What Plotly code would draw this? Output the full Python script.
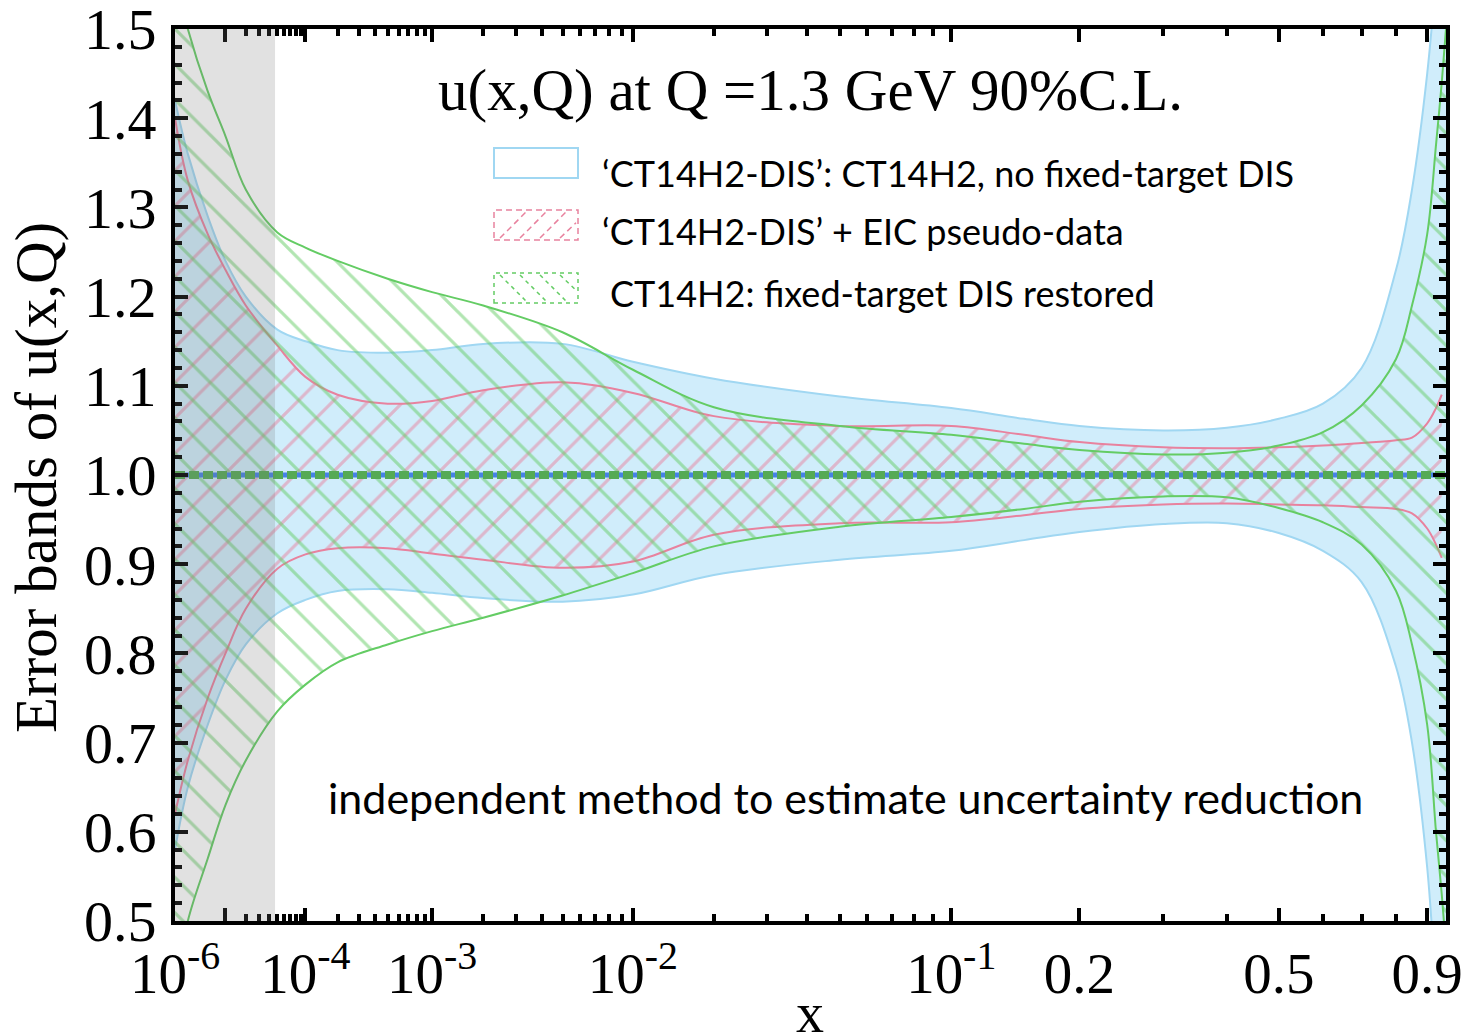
import numpy as np
import plotly.graph_objects as go

# ---------------- data ----------------
x_ct = [1e-6, 2e-6, 5e-6, 1e-5, 2e-5, 5e-5, 1e-4, 2e-4, 5e-4, 1e-3, 2e-3, 5e-3,
        1e-2, 2e-2, 5e-2, 0.1, 0.15, 0.2, 0.3, 0.4, 0.5, 0.6, 0.7, 0.8, 0.85,
        0.9, 0.93, 0.95, 0.97]

# 'CT14H2-DIS' (blue band)
dis_hi = [1.42, 1.36, 1.29, 1.24, 1.20, 1.163, 1.15, 1.14, 1.137, 1.14, 1.147, 1.147,
          1.127, 1.108, 1.088, 1.075, 1.063, 1.055, 1.05, 1.053, 1.063, 1.08, 1.12, 1.23, 1.32,
          1.45, 1.56, 1.65, 1.75]
dis_lo = [0.58, 0.65, 0.72, 0.77, 0.81, 0.845, 0.86, 0.87, 0.872, 0.868, 0.862, 0.858,
          0.866, 0.888, 0.905, 0.915, 0.927, 0.936, 0.945, 0.946, 0.935, 0.915, 0.88, 0.785, 0.70,
          0.56, 0.42, 0.32, 0.20]

# 'CT14H2-DIS' + EIC pseudo-data (pink band)
x_eic = x_ct[:28]
eic_hi = [1.40, 1.33, 1.27, 1.23, 1.19, 1.145, 1.11, 1.09, 1.08, 1.083, 1.095, 1.104,
          1.092, 1.066, 1.055, 1.055, 1.045, 1.037, 1.031, 1.03, 1.031, 1.033, 1.036, 1.039, 1.042,
          1.058, 1.075, 1.09]
eic_lo = [0.62, 0.68, 0.75, 0.80, 0.85, 0.895, 0.911, 0.918, 0.918, 0.912, 0.905, 0.896,
          0.903, 0.933, 0.946, 0.947, 0.955, 0.962, 0.967, 0.968, 0.967, 0.966, 0.964, 0.962, 0.957,
          0.94, 0.922, 0.907]

# CT14H2 (green band)
ct_hi = [1.56, 1.50, 1.43, 1.38, 1.32, 1.272, 1.255, 1.24, 1.22, 1.205, 1.19, 1.16,
         1.118, 1.076, 1.055, 1.045, 1.035, 1.028, 1.023, 1.025, 1.033, 1.048, 1.078, 1.13, 1.19,
         1.27, 1.37, 1.44, 1.52]
ct_lo = [0.42, 0.50, 0.57, 0.63, 0.68, 0.735, 0.765, 0.79, 0.81, 0.825, 0.84, 0.865,
         0.89, 0.92, 0.942, 0.953, 0.962, 0.97, 0.976, 0.975, 0.963, 0.947, 0.922, 0.87, 0.81,
         0.72, 0.60, 0.53, 0.45]

x_major = [1e-6, 1e-5, 1e-4, 1e-3, 1e-2, 0.1, 0.2, 0.5, 0.9]
x_major_labels = ["10<sup>-6</sup>", "", "10<sup>-4</sup>", "10<sup>-3</sup>", "10<sup>-2</sup>",
                  "10<sup>-1</sup>", "0.2", "0.5", "0.9"]
x_minor = [k * 10.0 ** e for e in (-5, -4, -3, -2) for k in range(2, 10)] + [0.3, 0.4, 0.6, 0.7, 0.8]
y_major = [0.5, 0.6, 0.7, 0.8, 0.9, 1.0, 1.1, 1.2, 1.3, 1.4, 1.5]
y_major_labels = ["0.5", "0.6", "0.7", "0.8", "0.9", "1.0", "1.1", "1.2", "1.3", "1.4", "1.5"]

x_min, x_max = 1e-6, 0.965
x_gray_edge = 4.7e-5

POW = 0.2  # x-axis drawn on an x^0.2 scale


def T(v):
    return (np.asarray(v, dtype=float) ** POW).tolist()


# ---------------- styling ----------------
BLUE_FILL = "rgb(208,237,251)"
BLUE_LINE = "rgb(160,215,242)"
PINK = "rgb(232,130,158)"
GREEN = "rgb(100,204,100)"
SERIF = "Liberation Serif"
SANS = "Lato"

W, H = 1464, 1033
L, R, TOP, BOT = 175, 1446, 29, 921


def px(xp):
    return (xp - L) / (R - L)


def py(yp):
    return (BOT - yp) / (BOT - TOP)


fig = go.Figure()

# blue band
fig.add_trace(go.Scatter(x=T(x_ct), y=dis_lo, mode="lines", line=dict(color=BLUE_LINE, width=2, shape="spline"),
                         showlegend=False, hoverinfo="skip"))
fig.add_trace(go.Scatter(x=T(x_ct), y=dis_hi, mode="lines", line=dict(color=BLUE_LINE, width=2, shape="spline"),
                         fill="tonexty", fillcolor=BLUE_FILL, showlegend=False, hoverinfo="skip"))
# pink band
fig.add_trace(go.Scatter(x=T(x_eic), y=eic_lo, mode="lines", line=dict(color=PINK, width=2, shape="spline"),
                         showlegend=False, hoverinfo="skip"))
fig.add_trace(go.Scatter(x=T(x_eic), y=eic_hi, mode="lines", line=dict(color=PINK, width=2, shape="spline"),
                         fill="tonexty", fillcolor="rgba(0,0,0,0)",
                         fillpattern=dict(shape="/", fgcolor=PINK, bgcolor="rgba(0,0,0,0)", size=25,
                                          solidity=0.13, fillmode="overlay"),
                         showlegend=False, hoverinfo="skip"))
# green band
fig.add_trace(go.Scatter(x=T(x_ct), y=ct_lo, mode="lines", line=dict(color=GREEN, width=2, shape="spline"),
                         showlegend=False, hoverinfo="skip"))
fig.add_trace(go.Scatter(x=T(x_ct), y=ct_hi, mode="lines", line=dict(color=GREEN, width=2, shape="spline"),
                         fill="tonexty", fillcolor="rgba(0,0,0,0)",
                         fillpattern=dict(shape="\\", fgcolor=GREEN, bgcolor="rgba(0,0,0,0)", size=25,
                                          solidity=0.13, fillmode="overlay"),
                         showlegend=False, hoverinfo="skip"))
# central value line
fig.add_trace(go.Scatter(x=T([x_min, x_max]), y=[1.0, 1.0], mode="lines",
                         line=dict(color="rgb(70,130,230)", width=5), showlegend=False, hoverinfo="skip"))
fig.add_trace(go.Scatter(x=T([x_min, x_max]), y=[1.0, 1.0], mode="lines",
                         line=dict(color="rgb(85,170,85)", width=8, dash="10px,4px"),
                         showlegend=False, hoverinfo="skip"))

shapes = []
# gray shaded small-x region
shapes.append(dict(type="rect", xref="x", yref="y", x0=T([x_min])[0], x1=T([x_gray_edge])[0],
                   y0=0.5, y1=1.5, fillcolor="rgba(120,120,120,0.22)", line=dict(width=0), layer="above"))

# legend symbols
bx0, bx1 = 494, 578
boxes = [(148, 178), (210, 240), (273, 303)]
shapes.append(dict(type="rect", xref="paper", yref="paper", x0=px(bx0), x1=px(bx1),
                   y0=py(boxes[0][1]), y1=py(boxes[0][0]), line=dict(color=BLUE_LINE, width=2),
                   fillcolor="white"))
shapes.append(dict(type="rect", xref="paper", yref="paper", x0=px(bx0), x1=px(bx1),
                   y0=py(boxes[1][1]), y1=py(boxes[1][0]), line=dict(color=PINK, width=1.5, dash="6px,4px")))
shapes.append(dict(type="rect", xref="paper", yref="paper", x0=px(bx0), x1=px(bx1),
                   y0=py(boxes[2][1]), y1=py(boxes[2][0]), line=dict(color=GREEN, width=1.5, dash="4px,4px")))
# legend hatching
for k in range(4):
    xs = bx0 + 6 + k * 20
    ytop, ybot = boxes[1]
    shapes.append(dict(type="line", xref="paper", yref="paper", x0=px(xs), y0=py(ybot - 2),
                       x1=px(min(xs + 26, bx1 - 2)), y1=py(ytop + 2 + max(0, xs + 26 - (bx1 - 2)) * 28 / 26),
                       line=dict(color=PINK, width=1.5, dash="6px,4px")))
    ytop, ybot = boxes[2]
    shapes.append(dict(type="line", xref="paper", yref="paper", x0=px(xs), y0=py(ytop + 2),
                       x1=px(min(xs + 26, bx1 - 2)), y1=py(ybot - 2 - max(0, xs + 26 - (bx1 - 2)) * 28 / 26),
                       line=dict(color=GREEN, width=1.5, dash="4px,4px")))

annotations = [
    dict(text="u(x,Q) at Q =1.3 GeV 90%C.L.", x=px(810), y=py(90), xref="paper", yref="paper",
         showarrow=False, font=dict(family=SERIF, size=59, color="black"), xanchor="center", yanchor="middle"),
    dict(text="\u2018CT14H2-DIS\u2019: CT14H2, no fixed-target DIS", x=px(600), y=py(173), xref="paper",
         yref="paper", showarrow=False, font=dict(family=SANS, size=36, color="black"),
         xanchor="left", yanchor="middle"),
    dict(text="\u2018CT14H2-DIS\u2019 + EIC pseudo-data", x=px(600), y=py(231), xref="paper",
         yref="paper", showarrow=False, font=dict(family=SANS, size=36, color="black"),
         xanchor="left", yanchor="middle"),
    dict(text="CT14H2: fixed-target DIS restored", x=px(608), y=py(293), xref="paper",
         yref="paper", showarrow=False, font=dict(family=SANS, size=36, color="black"),
         xanchor="left", yanchor="middle"),
    dict(text="independent method to estimate uncertainty reduction", x=px(845), y=py(797), xref="paper",
         yref="paper", showarrow=False, font=dict(family=SANS, size=43, color="black"),
         xanchor="center", yanchor="middle"),
    dict(text="x", x=px(810), y=py(1013), xref="paper", yref="paper", showarrow=False,
         font=dict(family=SERIF, size=56, color="black"), xanchor="center", yanchor="middle"),
    dict(text="Error bands of u(x,Q)", x=px(36), y=py(478), xref="paper", yref="paper", showarrow=False,
         textangle=-90, font=dict(family=SERIF, size=59, color="black"), xanchor="center", yanchor="middle"),
]

fig.update_layout(
    width=W, height=H,
    margin=dict(l=L, r=W - R, t=TOP, b=H - BOT, pad=0, autoexpand=False),
    paper_bgcolor="white", plot_bgcolor="white",
    shapes=shapes, annotations=annotations,
    xaxis=dict(range=T([x_min, x_max]), tickmode="array", tickvals=T(x_major), ticktext=x_major_labels,
               ticks="inside", ticklen=13, tickwidth=4, tickcolor="black",
               showline=True, linewidth=4, linecolor="black", mirror="ticks",
               showgrid=False, zeroline=False, ticklabelstandoff=0, automargin=False,
               ticklabeloverflow="allow",
               tickfont=dict(family=SERIF, size=57, color="black"),
               minor=dict(tickmode="array", tickvals=T(x_minor), ticks="inside", ticklen=7, tickwidth=4,
                          tickcolor="black", showgrid=False)),
    yaxis=dict(range=[0.5, 1.5], tickmode="array", tickvals=y_major, ticktext=y_major_labels,
               ticks="inside", ticklen=13, tickwidth=4, tickcolor="black",
               showline=True, linewidth=4, linecolor="black", mirror="ticks",
               showgrid=False, zeroline=False, ticklabelstandoff=3, automargin=False,
               ticklabeloverflow="allow",
               tickfont=dict(family=SERIF, size=58, color="black"),
               minor=dict(dtick=0.02, tick0=0.5, ticks="inside", ticklen=7, tickwidth=4,
                          tickcolor="black", showgrid=False)),
)

fig.write_html("out.html", config={"displayModeBar": False},
               post_script="document.body.style.margin='0';document.body.style.overflow='hidden';")
